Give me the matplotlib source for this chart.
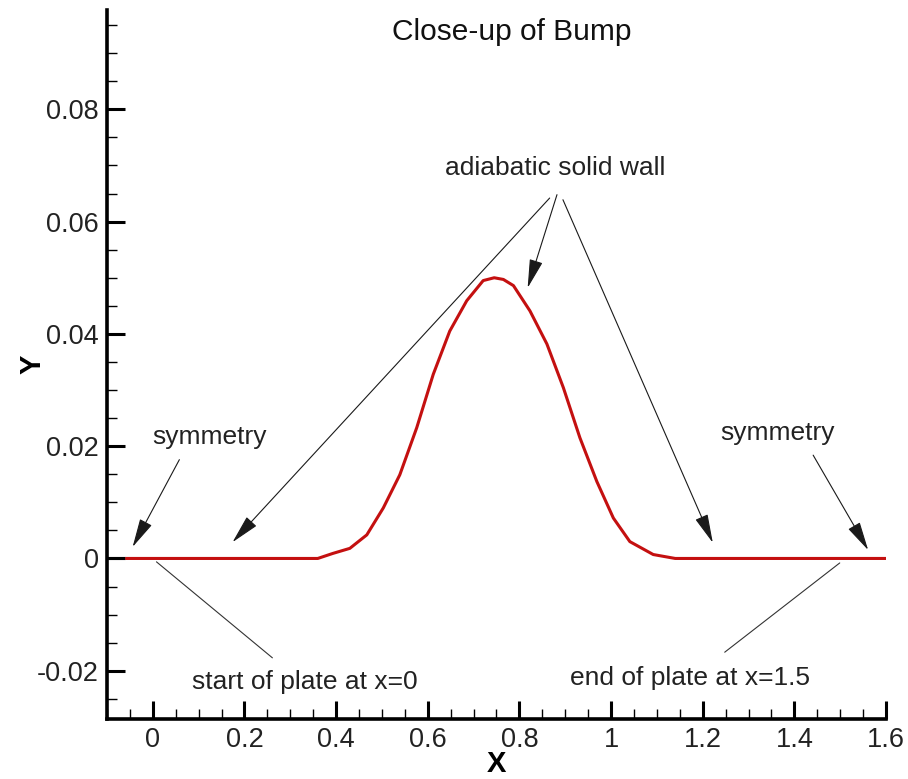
import matplotlib
matplotlib.use("Agg")
import matplotlib.pyplot as plt
from matplotlib.ticker import FixedLocator, MultipleLocator

plt.rcParams['font.family'] = ['Liberation Sans', 'DejaVu Sans']

# ---- data ----
bump_x = [-0.06, 0.36, 0.393, 0.43, 0.467, 0.503, 0.539, 0.576, 0.612, 0.648,
          0.685, 0.721, 0.745, 0.765, 0.787, 0.823, 0.860, 0.896, 0.932, 0.969,
          1.005, 1.041, 1.092, 1.14, 1.6]
bump_y = [0.0, 0.0, 0.0009, 0.0018, 0.0042, 0.0090, 0.0149, 0.0233, 0.0328, 0.0405,
          0.0459, 0.0495, 0.0500, 0.0497, 0.0486, 0.0441, 0.0382, 0.0304, 0.0215, 0.0137,
          0.0072, 0.0030, 0.0007, 0.0, 0.0]
stub_x = [-0.1, -0.06]
stub_y = [0.0, 0.0]

xticks = [0, 0.2, 0.4, 0.6, 0.8, 1.0, 1.2, 1.4, 1.6]
xtick_labels = ['0', '0.2', '0.4', '0.6', '0.8', '1', '1.2', '1.4', '1.6']
yticks = [-0.02, 0.0, 0.02, 0.04, 0.06, 0.08]
ytick_labels = ['-0.02', '0', '0.02', '0.04', '0.06', '0.08']

title = 'Close-up of Bump'
wall_label = 'adiabatic solid wall'
sym_label = 'symmetry'
start_label = 'start of plate at x=0'
end_label = 'end of plate at x=1.5'

# ---- figure ----
fig = plt.figure(figsize=(9.08, 7.79), dpi=100)
ax = fig.add_axes([0.1178, 0.0770, 0.8580, 0.9102])
ax.set_xlim(-0.1, 1.6)
ax.set_ylim(-0.0286, 0.0977)

ax.plot(stub_x, stub_y, color='black', lw=2.2, solid_capstyle='butt', zorder=3)
ax.plot(bump_x, bump_y, color='#c41010', lw=2.2, solid_capstyle='butt', zorder=3)

for s in ['top', 'right']:
    ax.spines[s].set_visible(False)
for s in ['left', 'bottom']:
    ax.spines[s].set_linewidth(2.6)
    ax.spines[s].set_capstyle('projecting')

ax.xaxis.set_major_locator(FixedLocator(xticks))
ax.set_xticklabels(xtick_labels)
ax.yaxis.set_major_locator(FixedLocator(yticks))
ax.set_yticklabels(ytick_labels)
ax.xaxis.set_minor_locator(MultipleLocator(0.05))
ax.yaxis.set_minor_locator(MultipleLocator(0.005))
ax.tick_params(which='major', direction='in', length=13, width=2.2,
               labelsize=19.5, pad=6, colors='black', labelcolor='#222222')
ax.tick_params(which='minor', direction='in', length=7, width=1.0)

ax.set_xlabel('X', fontsize=21, fontweight='bold', va='center')
ax.set_ylabel('Y', fontsize=21, fontweight='bold', va='center')
ax.xaxis.set_label_coords(0.4994, -0.0635)
ax.yaxis.set_label_coords(-0.095, 0.5007)

txt_kw = dict(fontsize=19, color='#222222', ha='center', va='center')
ax.text(0.783, 0.0938, title, fontsize=21.5, color='#111111', ha='center', va='center')
ax.text(0.877, 0.0696, wall_label, **txt_kw)
ax.text(0.124, 0.0217, sym_label, **txt_kw)
ax.text(1.364, 0.0224, sym_label, **txt_kw)
ax.text(0.331, -0.0220, start_label, **txt_kw)
ax.text(1.172, -0.0213, end_label, **txt_kw)

arrow = dict(arrowstyle='-|>,head_length=1.8,head_width=0.42', mutation_scale=10,
             color='#1a1a1a', lw=0.8, shrinkA=0, shrinkB=0)
line = dict(arrowstyle='-', color='#333333', lw=0.8, shrinkA=0, shrinkB=0)

arrows = [((0.058, 0.0176), (-0.044, 0.00205)),
          ((1.441, 0.0184), (1.561, 0.0015)),
          ((0.866, 0.0642), (0.174, 0.0029)),
          ((0.882, 0.0648), (0.818, 0.0482)),
          ((0.895, 0.0639), (1.222, 0.0028))]
for start, tip in arrows:
    ax.annotate('', xy=tip, xytext=start, arrowprops=arrow)

ax.annotate('', xy=(0.008, -0.0006), xytext=(0.261, -0.0177), arrowprops=line)
ax.annotate('', xy=(1.499, -0.0008), xytext=(1.248, -0.0167), arrowprops=line)

fig.savefig('out.png', dpi=100)
